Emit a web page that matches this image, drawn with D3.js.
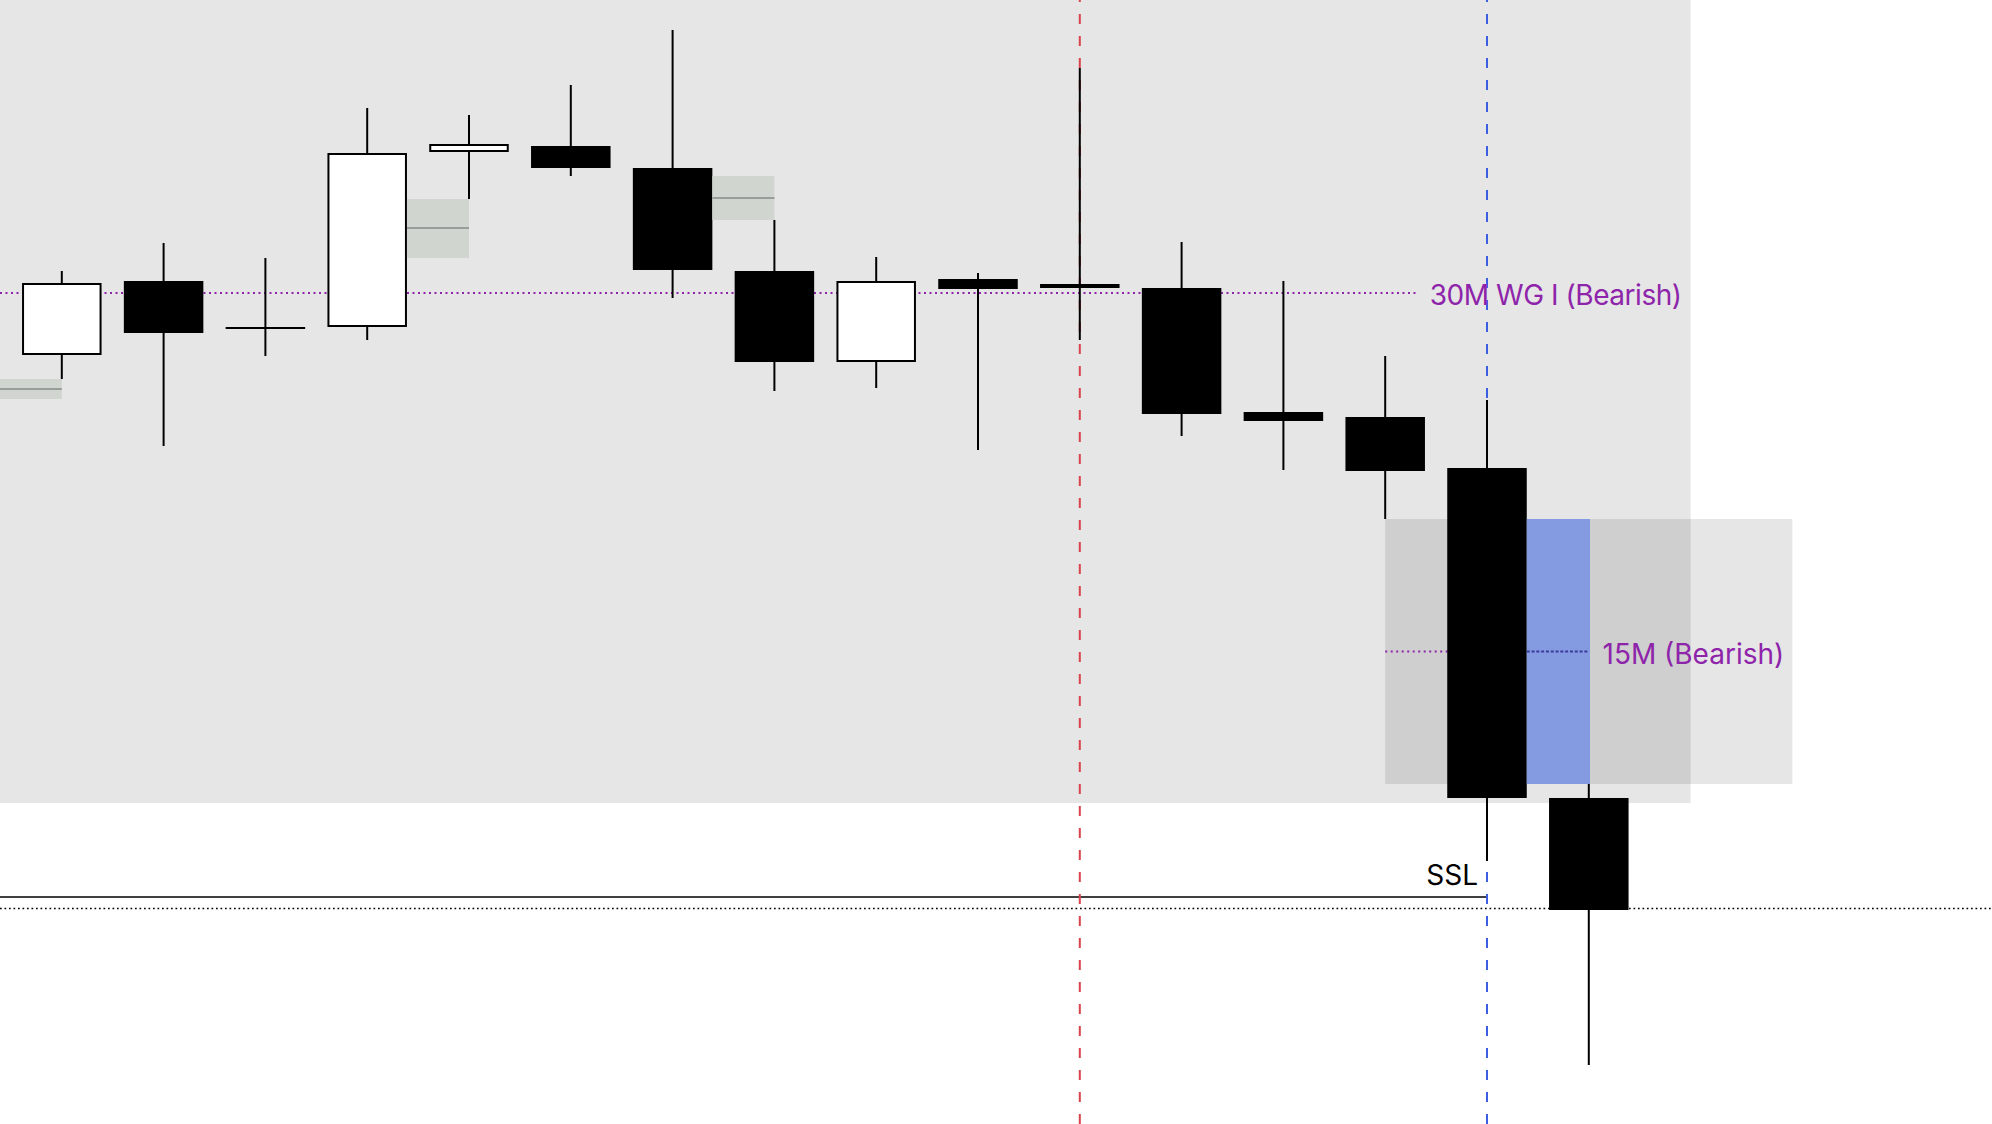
<!DOCTYPE html>
<html>
<head>
<meta charset="utf-8">
<script src="https://cdn.jsdelivr.net/npm/d3@7"></script>
<style>
  html, body { margin: 0; padding: 0; background: #ffffff; overflow: hidden; }
  svg { display: block; }
</style>
</head>
<body>
<svg id="chart" width="1992" height="1124"></svg>
<script>
// ---- data (price units) ----
const candleIndex = [0, 1, 2, 3, 4, 5, 6, 7, 8, 9, 10, 11, 12, 13, 14, 15];
const opens  = [18192.25, 18210.75, 18199.0, 18199.25, 18243.0, 18244.5, 18239.0, 18213.25, 18190.5, 18211.25, 18210.0, 18209.0, 18178.0, 18176.75, 18164.0, 18081.5];
const highs  = [18213.25, 18220.25, 18216.5, 18254.0, 18252.25, 18259.75, 18273.5, 18226.0, 18216.75, 18212.75, 18264.0, 18220.5, 18210.75, 18192.0, 18181.0, 18085.0];
const lows   = [18186.25, 18169.5, 18192.0, 18196.0, 18231.25, 18237.0, 18206.5, 18183.25, 18184.0, 18168.5, 18196.0, 18172.0, 18163.5, 18151.25, 18065.75, 18014.75];
const closes = [18210.25, 18197.75, 18199.0, 18242.75, 18245.0, 18239.0, 18213.5, 18190.5, 18210.75, 18208.75, 18209.0, 18177.5, 18175.75, 18163.25, 18081.5, 18053.5];

// small gap boxes: [from candle index (right edge of previous), to candle index (center)], price top/bottom/mid
const gapBoxTo     = [0, 4, 7];
const gapBoxTop    = [18186.25, 18231.25, 18237.0];
const gapBoxBottom = [18181.25, 18216.5, 18226.0];
const gapBoxMid    = [18183.75, 18224.0, 18231.5];

// session shading
const sessionEndIndex = 16;
const sessionTop = 18281;
const sessionBottom = 18080.25;

// 15M zone (candle 14 low to candle 16 high)
const zoneStartIndex = 13;
const zoneEndIndex = 17;
const zoneTop = 18151.25;
const zoneBottom = 18085.0;
const zoneLabel = "15M (Bearish)";

// levels
const wgLevel = 18207.75;
const wgLabel = "30M WG I (Bearish)";
const sslLevel = 18056.75;
const sslLabel = "SSL";
const dottedLevel = 18053.875;

// vertical markers (candle indexes)
const redMarkerIndex = 10;
const blueMarkerIndex = 14;

// ---- scales ----
const W = 1992, H = 1124;
const svg = d3.select("#chart");
const x = d3.scaleLinear().domain([0, 15]).range([61.8, 1588.8]);
const y = d3.scaleLinear().domain([18000, 18281]).range([H, 0]);
const step = x(1) - x(0);
const bodyW = step * 0.781;
const half = bodyW / 2;

// session background
svg.append("rect")
  .attr("x", 0).attr("y", y(sessionTop))
  .attr("width", x(sessionEndIndex)).attr("height", y(sessionBottom) - y(sessionTop))
  .attr("fill", "#000").attr("fill-opacity", 0.098);

// 15M zone
svg.append("rect")
  .attr("x", x(zoneStartIndex)).attr("y", y(zoneTop))
  .attr("width", x(zoneEndIndex) - x(zoneStartIndex)).attr("height", y(zoneBottom) - y(zoneTop))
  .attr("fill", "#000").attr("fill-opacity", 0.098);

const purple = "#8e24aa";

// 30M WG level line
const wgLineEnd = x(13) + 31;
svg.append("line")
  .attr("x1", 0).attr("x2", wgLineEnd)
  .attr("y1", y(wgLevel)).attr("y2", y(wgLevel))
  .attr("stroke", purple).attr("stroke-width", 2).attr("stroke-dasharray", "2,3.5");

// 15M midline
const zoneMid = (zoneTop + zoneBottom) / 2;
svg.append("line")
  .attr("x1", x(zoneStartIndex)).attr("x2", x(15))
  .attr("y1", y(zoneMid)).attr("y2", y(zoneMid))
  .attr("stroke", purple).attr("stroke-width", 2).attr("stroke-dasharray", "2,3.5");

// SSL line
svg.append("line")
  .attr("x1", 0).attr("x2", x(blueMarkerIndex))
  .attr("y1", y(sslLevel)).attr("y2", y(sslLevel))
  .attr("stroke", "#000").attr("stroke-width", 1.6);

// dotted black line
svg.append("line")
  .attr("x1", 0).attr("x2", W)
  .attr("y1", y(dottedLevel)).attr("y2", y(dottedLevel))
  .attr("stroke", "#000").attr("stroke-width", 1.7).attr("stroke-dasharray", "1.7,2.8");

// vertical dashed markers
[[redMarkerIndex, "#d9434b"], [blueMarkerIndex, "#3b5ee3"]].forEach(([i, c]) => {
  svg.append("line")
    .attr("x1", x(i)).attr("x2", x(i))
    .attr("y1", 0).attr("y2", H)
    .attr("stroke", c).attr("stroke-width", 2)
    .attr("stroke-dasharray", "10,12").attr("stroke-dashoffset", 8);
});

// candles
const candles = candleIndex.map((i) => ({ i, o: opens[i], h: highs[i], l: lows[i], c: closes[i] }));
const g = svg.append("g");
g.selectAll("line.wick").data(candles).join("line")
  .attr("class", "wick")
  .attr("x1", d => x(d.i)).attr("x2", d => x(d.i))
  .attr("y1", d => y(d.h)).attr("y2", d => y(d.l))
  .attr("stroke", "#000").attr("stroke-width", 2);

g.selectAll("rect.body").data(candles).join("rect")
  .attr("class", "body")
  .each(function(d) {
    const top = y(Math.max(d.o, d.c));
    const bot = y(Math.min(d.o, d.c));
    const sel = d3.select(this);
    if (d.c > d.o) {
      sel.attr("x", x(d.i) - half + 1).attr("width", bodyW - 2)
        .attr("y", top + 1).attr("height", Math.max(bot - top - 2, 1))
        .attr("fill", "#fff").attr("stroke", "#000").attr("stroke-width", 2);
    } else {
      const hgt = Math.max(bot - top, 2);
      sel.attr("x", x(d.i) - half).attr("width", bodyW)
        .attr("y", (top + bot) / 2 - hgt / 2).attr("height", hgt)
        .attr("fill", "#000");
    }
  });

// small gap boxes
gapBoxTo.forEach((to, k) => {
  const x0 = Math.max(0, x(to - 1) + half);
  const x1 = x(to);
  svg.append("rect")
    .attr("x", x0).attr("y", y(gapBoxTop[k]))
    .attr("width", x1 - x0).attr("height", y(gapBoxBottom[k]) - y(gapBoxTop[k]))
    .attr("fill", "#d0d5d0");
  svg.append("line")
    .attr("x1", x0).attr("x2", x1)
    .attr("y1", y(gapBoxMid[k])).attr("y2", y(gapBoxMid[k]))
    .attr("stroke", "#9a9e9a").attr("stroke-width", 1.8);
});

// blue imbalance rect
const bx0 = x(14) + half, bx1 = x(15) + 1.2;
svg.append("rect")
  .attr("x", bx0).attr("y", y(zoneTop))
  .attr("width", bx1 - bx0).attr("height", y(zoneBottom) - y(zoneTop))
  .attr("fill", "#849be2");
svg.append("line")
  .attr("x1", bx0).attr("x2", bx1 - 1)
  .attr("y1", y(zoneMid)).attr("y2", y(zoneMid))
  .attr("stroke", "#3a3a9c").attr("stroke-width", 2).attr("stroke-dasharray", "3,1.8");

// labels
const font = "Inter, 'Noto Sans', sans-serif";
svg.append("text")
  .attr("x", wgLineEnd + 13.5).attr("y", y(wgLevel) + 12)
  .attr("font-family", font).attr("font-size", 28).attr("fill", purple)
  .attr("letter-spacing", -0.45)
  .text(wgLabel);
svg.append("text")
  .attr("x", bx1 + 12.5).attr("y", y(zoneMid) + 12.5)
  .attr("font-family", font).attr("font-size", 28).attr("fill", purple)
  .text(zoneLabel);
svg.append("text")
  .attr("x", x(blueMarkerIndex) - 9).attr("y", y(sslLevel) - 12)
  .attr("text-anchor", "end")
  .attr("font-family", font).attr("font-size", 28).attr("fill", "#000")
  .text(sslLabel);
</script>
</body>
</html>
